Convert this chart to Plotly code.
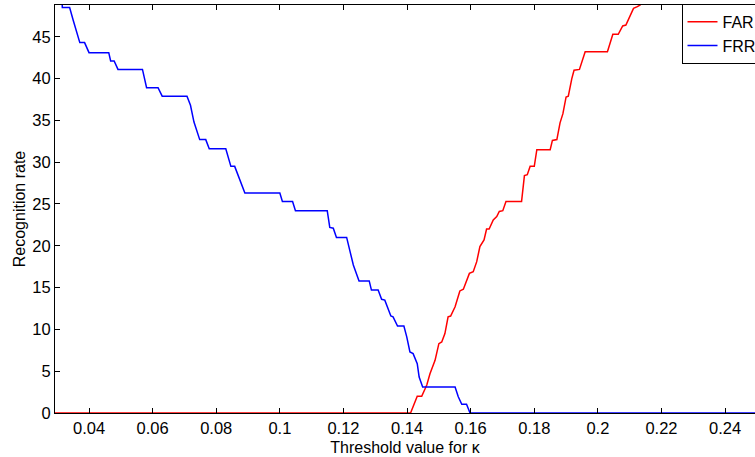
import plotly.graph_objects as go

# FRR curve (blue), threshold vs rate
frr_x = [0.0300, 0.0314, 0.0316, 0.0339, 0.0350, 0.0360, 0.0371, 0.0386, 0.0400, 0.0462,
         0.0468, 0.0479, 0.0491, 0.0568, 0.0581, 0.0617, 0.0630, 0.0708, 0.0719, 0.0730,
         0.0748, 0.0767, 0.0778, 0.0830, 0.0846, 0.0858, 0.0890, 0.1000, 0.1008, 0.1040,
         0.1049, 0.1149, 0.1157, 0.1168, 0.1178, 0.1210, 0.1220, 0.1231, 0.1249, 0.1281,
         0.1288, 0.1309, 0.1320, 0.1330, 0.1349, 0.1356, 0.1370, 0.1390, 0.1399, 0.1409,
         0.1419, 0.1432, 0.1438, 0.1449, 0.1551, 0.1561, 0.1572, 0.1587, 0.1598, 0.2600]
frr_y = [51.0, 51.0, 48.5, 48.5, 47.0, 45.6, 44.3, 44.3, 43.1, 43.1,
         42.1, 42.1, 41.1, 41.1, 38.9, 38.9, 37.9, 37.9, 36.8, 34.8,
         32.7, 32.7, 31.6, 31.6, 29.5, 29.5, 26.3, 26.3, 25.3, 25.3,
         24.2, 24.2, 22.2, 22.1, 21.0, 21.0, 19.5, 17.7, 15.8, 15.8,
         14.7, 14.7, 13.6, 13.5, 11.6, 11.5, 10.4, 10.4, 9.1, 7.3,
         7.1, 5.9, 4.3, 3.1, 3.1, 1.95, 1.04, 1.04, 0.0, 0.0]

# FAR curve (red)
far_x = [0.0200, 0.1411, 0.1432, 0.1446, 0.1462, 0.1472, 0.1488, 0.1500, 0.1509, 0.1519,
         0.1529, 0.1537, 0.1551, 0.1566, 0.1577, 0.1587, 0.1596, 0.1608, 0.1619, 0.1629,
         0.1642, 0.1650, 0.1658, 0.1671, 0.1682, 0.1690, 0.1701, 0.1711, 0.1760, 0.1769,
         0.1778, 0.1787, 0.1800, 0.1808, 0.1850, 0.1857, 0.1871, 0.1881, 0.1890, 0.1900,
         0.1907, 0.1918, 0.1925, 0.1942, 0.1960, 0.2030, 0.2047, 0.2064, 0.2078, 0.2088,
         0.2101, 0.2112, 0.2124, 0.2133, 0.2150, 0.2600]
far_y = [0.0, 0.0, 2.0, 2.0, 3.35, 4.7, 6.3, 8.3, 8.5, 9.5,
         11.5, 11.6, 12.7, 14.6, 14.8, 15.9, 16.7, 16.9, 18.1, 19.9,
         20.7, 22.0, 22.0, 23.1, 23.5, 24.1, 24.2, 25.3, 25.3, 28.4,
         28.5, 29.5, 29.5, 31.5, 31.5, 32.6, 32.7, 34.7, 35.8, 37.8,
         37.9, 40.0, 41.0, 41.1, 43.2, 43.2, 45.3, 45.3, 46.3, 46.4,
         47.4, 48.4, 48.6, 48.8, 50.5, 52.0]

x_tickvals = [0.04, 0.06, 0.08, 0.10, 0.12, 0.14, 0.16, 0.18, 0.20, 0.22, 0.24]
x_ticktext = ['0.04', '0.06', '0.08', '0.1', '0.12', '0.14', '0.16', '0.18', '0.2', '0.22', '0.24']
y_tickvals = [0, 5, 10, 15, 20, 25, 30, 35, 40, 45]

FONT = 'Liberation Sans, Arial, Helvetica, sans-serif'

fig = go.Figure()
fig.add_trace(go.Scatter(x=far_x, y=far_y, mode='lines', name='FAR',
                         line=dict(color='#ff0000', width=1.5)))
fig.add_trace(go.Scatter(x=frr_x, y=frr_y, mode='lines', name='FRR',
                         line=dict(color='#0000ff', width=1.5)))

fig.update_layout(
    width=755, height=457,
    margin=dict(l=55, r=0, t=5, b=44, autoexpand=False),
    paper_bgcolor='white', plot_bgcolor='white',
    font=dict(family=FONT, size=16.5, color='black'),
    showlegend=True,
    legend=dict(x=0.895, y=1.003, xanchor='left', yanchor='top',
                bgcolor='white', bordercolor='black', borderwidth=1,
                font=dict(size=16), tracegroupgap=0, itemwidth=30),
)
fig.update_xaxes(
    range=[0.0293, 0.2494], tickvals=x_tickvals, ticktext=x_ticktext,
    ticks='inside', ticklen=5, tickcolor='black', showgrid=False, zeroline=False,
    showline=True, linecolor='black', linewidth=1, mirror='ticks',
    title=dict(text='Threshold value for κ', font=dict(size=16), standoff=6),
)
fig.update_yaxes(
    range=[0, 48.8], tickvals=y_tickvals,
    ticks='inside', ticklen=5, tickcolor='black', showgrid=False, zeroline=False,
    showline=True, linecolor='black', linewidth=1, mirror=False,
    title=dict(text='Recognition rate', font=dict(size=16), standoff=2),
)

# drop the browser's default page margin so the figure sits at the window corner
fig.write_html("out.html", config={'displayModeBar': False},
               post_script="document.body.style.margin='0';document.body.style.overflow='hidden';")
